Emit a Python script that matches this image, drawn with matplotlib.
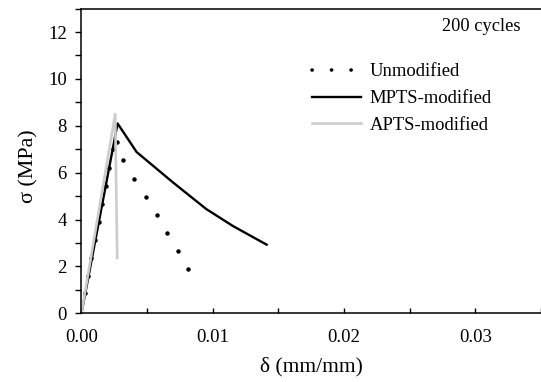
import numpy as np
import matplotlib.pyplot as plt
from matplotlib.lines import Line2D
from matplotlib.ticker import MultipleLocator

# strain (mm/mm) and stress (MPa)
unmod_x = [0.00024, 0.00049, 0.00075, 0.00100, 0.00131, 0.00158, 0.00186, 0.00212,
           0.00237, 0.00272, 0.00318, 0.00399, 0.00488, 0.00572, 0.00653, 0.00734, 0.0081]
unmod_y = [0.86, 1.61, 2.36, 3.14, 3.88, 4.66, 5.43, 6.20,
           7.0, 7.31, 6.53, 5.74, 4.97, 4.2, 3.43, 2.66, 1.87]

mpts_x = [0.0, 0.00275, 0.0042, 0.0070, 0.0095, 0.01155, 0.0141]
mpts_y = [0.0, 8.1, 6.88, 5.57, 4.45, 3.72, 2.93]

apts_x = [0.0, 0.00257, 0.00272]
apts_y = [0.0, 8.5, 2.36]

plt.rcParams['font.family'] = ['Liberation Serif', 'DejaVu Serif']

fig = plt.figure(figsize=(5.41, 3.82), dpi=100)
ax = fig.add_axes([0.1506, 0.1798, 0.8494, 0.7977])

ax.plot(unmod_x, unmod_y, linestyle='none', marker='o', ms=3.2, mfc='black', mec='none')
ax.plot(mpts_x, mpts_y, color='black', lw=1.7)
ax.plot(apts_x, apts_y, color='#cccccc', lw=1.9)

ax.set_xlim(0, 0.035)
ax.set_ylim(0, 13)
ax.xaxis.set_major_locator(MultipleLocator(0.01))
ax.xaxis.set_minor_locator(MultipleLocator(0.005))
ax.yaxis.set_major_locator(MultipleLocator(2))
ax.yaxis.set_minor_locator(MultipleLocator(1))
ax.xaxis.set_major_formatter(plt.FormatStrFormatter('%.2f'))

ax.tick_params(axis='x', which='both', direction='in', length=3.5, width=1, labelsize=13.5, pad=11)
ax.tick_params(axis='y', which='both', direction='out', length=4, width=1, labelsize=13.5, pad=6.5)
ax.spines['right'].set_visible(False)
for s in ['left', 'bottom', 'top']:
    ax.spines[s].set_linewidth(1.1)

ax.set_xlabel('δ (mm/mm)', fontsize=15.5, labelpad=8)
ax.set_ylabel('σ (MPa)', fontsize=15.8)
ax.yaxis.set_label_coords(-0.093, 0.482)

ax.text(0.955, 0.942, '200 cycles', transform=ax.transAxes, fontsize=13.2,
        ha='right', va='center')

handles = [
    Line2D([], [], color='black', lw=2.6, linestyle=(0, (0.05, 5.35)), dash_capstyle='round'),
    Line2D([], [], color='black', lw=1.7),
    Line2D([], [], color='#cccccc', lw=1.9),
]
labels = ['Unmodified', 'MPTS-modified', 'APTS-modified']
ax.legend(handles, labels, loc='upper left', bbox_to_anchor=(0.465, 0.875), frameon=False,
          fontsize=13.4, handlelength=2.65, handletextpad=0.45, labelspacing=0.52)

fig.savefig('out.png', dpi=100)
